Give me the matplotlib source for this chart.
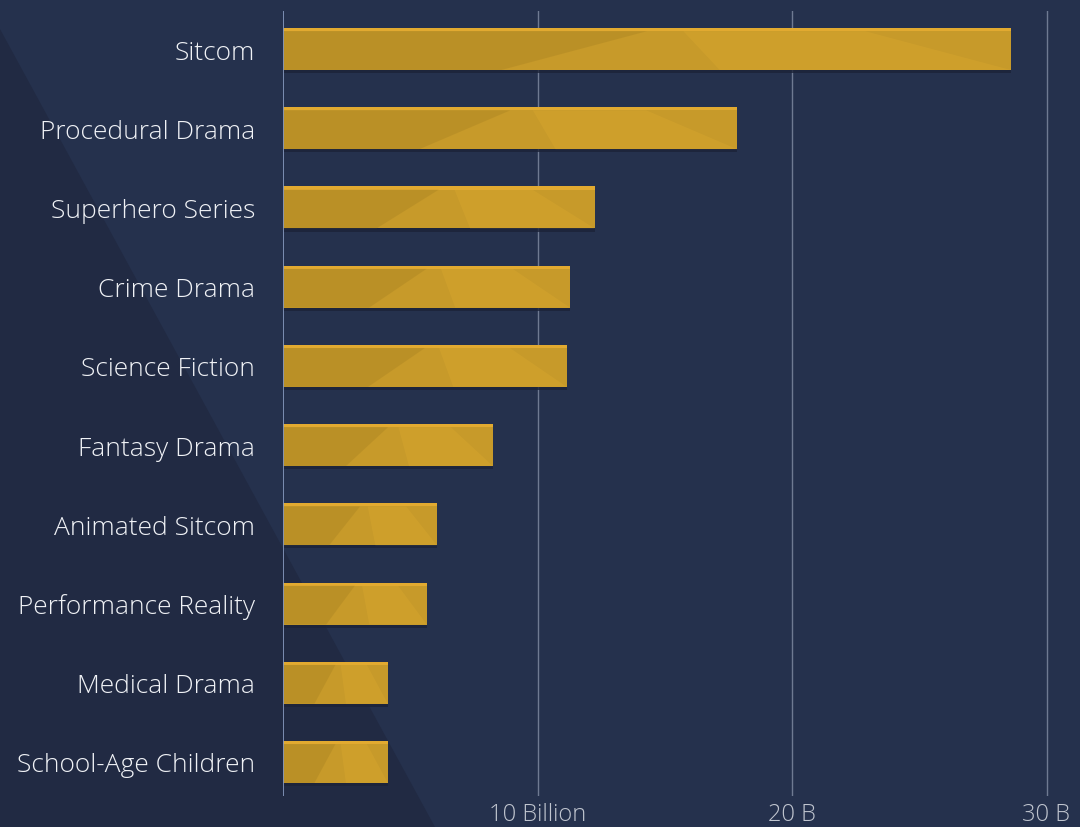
import numpy as np
import matplotlib.pyplot as plt
from matplotlib.patches import Polygon

# data (billions)
genres = ["Sitcom", "Procedural Drama", "Superhero Series", "Crime Drama",
          "Science Fiction", "Fantasy Drama", "Animated Sitcom",
          "Performance Reality", "Medical Drama", "School-Age Children"]
values = [28.6, 17.85, 12.25, 11.28, 11.15, 8.25, 6.05, 5.65, 4.12, 4.12]
tick_vals = [10, 20, 30]
tick_labels = ["10 Billion", "20 B", "30 B"]

BG = "#25314D"
BG_DARK = "#212A43"
GOLD = "#C79A2A"
GOLD_TOP = "#E2AA30"

fig = plt.figure(figsize=(10.8, 8.28), dpi=100)
fig.patch.set_facecolor(BG)

# darker diagonal band on the left
bg_ax = fig.add_axes([0, 0, 1, 1], zorder=-1)
bg_ax.set_xlim(0, 1080)
bg_ax.set_ylim(828, 0)
bg_ax.axis("off")
bg_ax.add_patch(Polygon([(0, 30), (435, 828), (0, 828)], closed=True,
                        facecolor=BG_DARK, edgecolor="none"))

ax = fig.add_axes([283 / 1080, 31 / 828, 797 / 1080, 785 / 828])
ax.set_facecolor("none")
ax.set_xlim(0, 797 / 25.45)
ax.set_ylim(9.43, -0.48)

y = np.arange(len(genres))
h = 0.53
ax.barh(y, values, height=h, color=GOLD, zorder=3)
# drop shadow
ax.barh(y + h / 2 + 0.02, values, height=0.04, color="#1C2338", alpha=0.8, zorder=2)
# lighter top strip
ax.barh(y - h / 2 + 0.02, values, height=0.04, color=GOLD_TOP, zorder=4)
# some darker / lighter facets in the bars
for yi, v in zip(y, values):
    top, bot = yi - h / 2 + 0.04, yi + h / 2
    ax.add_patch(Polygon([(0, top), (v * 0.5, top), (v * 0.3, bot), (0, bot)],
                         closed=True, facecolor="#8A6A1A", alpha=0.2,
                         edgecolor="none", zorder=4))
    ax.add_patch(Polygon([(v * 0.55, top), (v * 0.8, top), (v, bot), (v * 0.6, bot)],
                         closed=True, facecolor="#F0B835", alpha=0.18,
                         edgecolor="none", zorder=4))

ax.set_yticks(y)
ax.set_yticklabels(genres, family=["Open Sans", "DejaVu Sans"], fontweight="light",
                   fontsize=19, color="#F0F2F6")
ax.set_xticks(tick_vals)
ax.set_xticklabels(tick_labels, family=["Open Sans", "DejaVu Sans"], fontweight="light",
                   fontsize=17, color="#C0C5CF")
ax.tick_params(axis="y", length=0, pad=20)
ax.tick_params(axis="x", length=0, pad=4)
for s in ax.spines.values():
    s.set_visible(False)
ax.axvline(0, color="#8395BA", lw=1.3, zorder=5)
for t in tick_vals:
    ax.axvline(t, color="#6F7A92", lw=1, zorder=1)

fig.savefig("out.png", dpi=100, facecolor=BG)
